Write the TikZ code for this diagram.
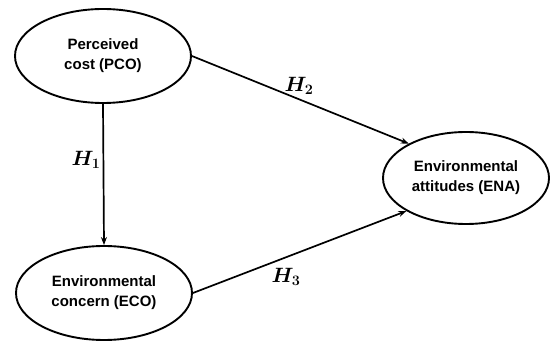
\documentclass[tikz,border=0pt]{standalone}
\usepackage{fontspec}
\setmainfont{Liberation Sans}
\usetikzlibrary{shapes.geometric,arrows.meta}
\tikzset{
  construct/.style={draw, ellipse, line width=1.9pt, inner sep=0pt,
    minimum width=176pt, minimum height=94pt, align=center,
    font=\fontsize{15}{20}\selectfont\bfseries},
  path/.style={line width=1.7pt, -{Stealth[length=8pt,width=6pt]}},
  hyp/.style={font=\fontsize{21}{24}\selectfont\boldmath}
}
\begin{document}
\begin{tikzpicture}[x=1pt, y=-1pt]
    \useasboundingbox (0,0) rectangle (550,342);
    % Constructs
    \node[construct] (pco) at (103,56) {Perceived\\cost (PCO)};
    \node[construct] (eco) at (104,293) {Environmental\\concern (ECO)};
    \node[construct, minimum width=166pt, minimum height=92pt] (ena) at (466,178) {Environmental\\attitudes (ENA)};

    % Hypotheses
    \draw[path] (pco.south) -- (eco.north);
    \draw[path] (pco.east) -- (ena.149);
    \draw[path] (eco.east) -- (ena.209);

    % Labels
    \node[hyp] (h1) at (86,160) {$H_1$};
    \node[hyp] (h2) at (299,86) {$H_2$};
    \node[hyp] (h3) at (286,277) {$H_3$};
\end{tikzpicture}
\end{document}
